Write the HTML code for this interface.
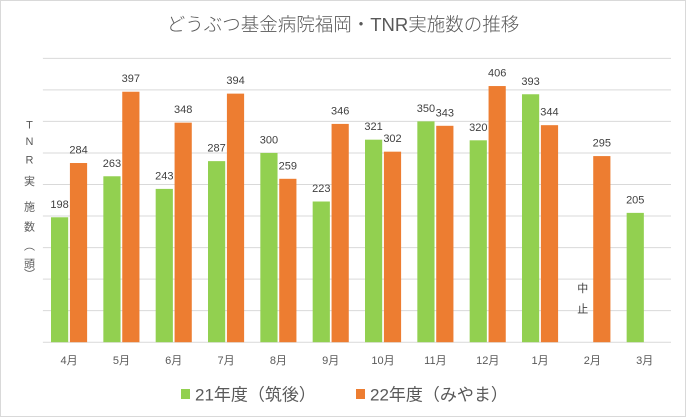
<!DOCTYPE html>
<html><head><meta charset="utf-8"><style>
html,body{margin:0;padding:0;background:#fff;}
svg{display:block;}
text{font-family:"Liberation Sans","Noto Sans CJK JP",sans-serif;}
.lbl{font-size:11px;fill:#404040;text-anchor:middle;}
.mon{font-size:11px;fill:#595959;text-anchor:middle;}
.yt{font-size:11px;fill:#595959;text-anchor:middle;}
</style></head><body>
<svg width="686" height="417" viewBox="0 0 686 417" xmlns="http://www.w3.org/2000/svg">
<rect x="0.5" y="0.5" width="685" height="416" fill="#fff" stroke="#d9d9d9"/>
<text x="343" y="31" text-anchor="middle" style="font-size:18.5px;fill:#595959;font-weight:300;">どうぶつ基金病院福岡・TNR実施数の推移</text>
<g stroke="#d9d9d9" stroke-width="1">
<line x1="42.9" x2="671" y1="58.34" y2="58.34"/>
<line x1="42.9" x2="671" y1="89.88" y2="89.88"/>
<line x1="42.9" x2="671" y1="121.42" y2="121.42"/>
<line x1="42.9" x2="671" y1="152.96" y2="152.96"/>
<line x1="42.9" x2="671" y1="184.5" y2="184.5"/>
<line x1="42.9" x2="671" y1="216.04" y2="216.04"/>
<line x1="42.9" x2="671" y1="247.58" y2="247.58"/>
<line x1="42.9" x2="671" y1="279.12" y2="279.12"/>
<line x1="42.9" x2="671" y1="310.66" y2="310.66"/>
<line x1="42.9" x2="671" y1="342.2" y2="342.2"/>
</g>
<g fill="#92D050">
<rect x="51.0" y="217.28" width="17.2" height="124.92"/>
<rect x="103.35" y="176.27" width="17.2" height="165.93"/>
<rect x="155.68" y="188.89" width="17.2" height="153.31"/>
<rect x="208.01" y="161.13" width="17.2" height="181.07"/>
<rect x="260.34" y="152.93" width="17.2" height="189.27"/>
<rect x="312.67" y="201.51" width="17.2" height="140.69"/>
<rect x="365.0" y="139.68" width="17.2" height="202.52"/>
<rect x="417.33" y="121.38" width="17.2" height="220.82"/>
<rect x="469.66" y="140.31" width="17.2" height="201.89"/>
<rect x="521.99" y="94.26" width="17.2" height="247.94"/>
<rect x="626.65" y="212.87" width="17.2" height="129.33"/>
</g>
<g fill="#ED7D31">
<rect x="69.92" y="163.02" width="17.2" height="179.18"/>
<rect x="122.25" y="91.73" width="17.2" height="250.47"/>
<rect x="174.58" y="122.65" width="17.2" height="219.55"/>
<rect x="226.91" y="93.63" width="17.2" height="248.57"/>
<rect x="279.24" y="178.80" width="17.2" height="163.40"/>
<rect x="331.57" y="123.91" width="17.2" height="218.29"/>
<rect x="383.9" y="151.67" width="17.2" height="190.53"/>
<rect x="436.23" y="125.80" width="17.2" height="216.40"/>
<rect x="488.56" y="86.05" width="17.2" height="256.15"/>
<rect x="540.89" y="125.17" width="17.2" height="217.03"/>
<rect x="593.22" y="156.08" width="17.2" height="186.12"/>
</g>
<g class="lbl">
<text class="lbl" x="59.6" y="207.8">198</text>
<text class="lbl" x="111.95" y="166.8">263</text>
<text class="lbl" x="164.28" y="179.4">243</text>
<text class="lbl" x="216.61" y="151.6">287</text>
<text class="lbl" x="268.94" y="143.4">300</text>
<text class="lbl" x="321.27" y="192.0">223</text>
<text class="lbl" x="373.6" y="130.2">321</text>
<text class="lbl" x="425.93" y="111.9">350</text>
<text class="lbl" x="478.26" y="130.8">320</text>
<text class="lbl" x="530.59" y="84.8">393</text>
<text class="lbl" x="635.25" y="203.4">205</text>
<text class="lbl" x="78.52" y="153.5">284</text>
<text class="lbl" x="130.85" y="82.2">397</text>
<text class="lbl" x="183.18" y="113.2">348</text>
<text class="lbl" x="235.51" y="84.1">394</text>
<text class="lbl" x="287.84" y="169.3">259</text>
<text class="lbl" x="340.17" y="114.4">346</text>
<text class="lbl" x="392.5" y="142.2">302</text>
<text class="lbl" x="444.83" y="116.3">343</text>
<text class="lbl" x="497.16" y="76.6">406</text>
<text class="lbl" x="549.49" y="115.7">344</text>
<text class="lbl" x="601.82" y="146.6">295</text>
</g>
<text class="lbl" x="582.7" y="292">中</text>
<text class="lbl" x="582.7" y="312.5">止</text>
<g>
<text class="mon" x="69.07" y="364">4月</text>
<text class="mon" x="121.4" y="364">5月</text>
<text class="mon" x="173.73" y="364">6月</text>
<text class="mon" x="226.06" y="364">7月</text>
<text class="mon" x="278.39" y="364">8月</text>
<text class="mon" x="330.72" y="364">9月</text>
<text class="mon" x="383.05" y="364">10月</text>
<text class="mon" x="435.38" y="364">11月</text>
<text class="mon" x="487.71" y="364">12月</text>
<text class="mon" x="540.04" y="364">1月</text>
<text class="mon" x="592.37" y="364">2月</text>
<text class="mon" x="644.7" y="364">3月</text>
</g>
<g>
<text class="yt" x="29.5" y="128.3">T</text>
<text class="yt" x="29.5" y="145">N</text>
<text class="yt" x="29.5" y="163.3">R</text>
<text class="yt" x="29.5" y="185">実</text>
<text class="yt" x="29.5" y="210.7">施</text>
<text class="yt" x="29.5" y="230.7">数</text>
<text class="yt" x="29.5" y="249.7">︵</text>
<text class="yt" x="29.5" y="267.3">頭</text>
<text class="yt" x="29.5" y="278">︶</text>
</g>
<rect x="181" y="389" width="9" height="10" fill="#92D050"/>
<text x="195" y="400.7" style="font-size:17px;fill:#595959;">21年度（筑後）</text>
<rect x="356" y="389" width="9" height="10" fill="#ED7D31"/>
<text x="370" y="400.7" style="font-size:17px;fill:#595959;">22年度（みやま）</text>
</svg>
</body></html>
